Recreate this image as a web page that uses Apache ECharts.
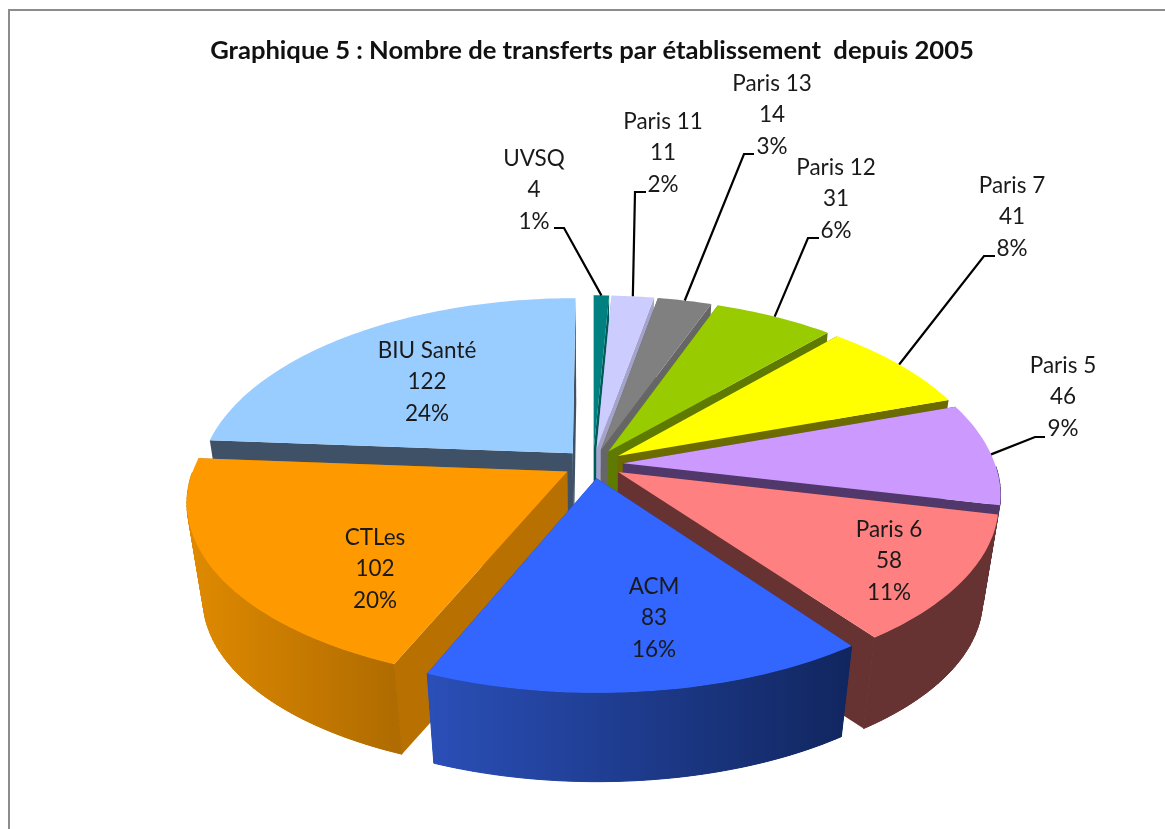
<!DOCTYPE html>
<html><head><meta charset="utf-8">
<style>html,body{margin:0;padding:0;background:#fff}#c{width:1165px;height:829px}</style>
<script src="https://cdn.jsdelivr.net/npm/echarts@6/dist/echarts.min.js"></script>
</head><body><div id="c"></div>
<script>
// Data
var categories = ['UVSQ','Paris 11','Paris 13','Paris 12','Paris 7','Paris 5','Paris 6','ACM','CTLes','BIU Santé'];
var values = [4,11,14,31,41,46,58,83,102,122];
var titleText = 'Graphique 5 : Nombre de transferts par établissement  depuis 2005';

// Styles
var topColors  = ['#008080','#CCCCFF','#808080','#99CC00','#FFFF00','#CC99FF','#FF8080','#3366FF','#FF9900','#99CCFF'];
var cutColors  = ['#005a5a','#a3a3cc','#666666','#5f7a00','#6b6b00','#50386a','#673232','#1c3a96','#b87000','#3f5166'];
var wallLeft   = ['#005a5a','#a3a3cc','#666666','#5f7a00','#6b6b00','#50386a','#673232','#2a4fb8','#e08a00','#3f5166'];
var wallRight  = ['#005a5a','#a3a3cc','#666666','#5f7a00','#6b6b00','#50386a','#673232','#11265f','#b06c00','#3f5166'];
var paintRank  = [0,1,2,3,4,5,7,9,8,6];
// Label layout: centre in page pixels, elbow of leader
var labelPos   = [[534,190],[663,153],[772,115],[836,199],[1012,217],[1063,397],[889,561],[654,618],[375,569],[427,382]];
var leaderPts  = [[[554,228],[564,228]],[[646,192],[635,192]],[[754,154],[744,154]],[[819,238],[808,238]],[[995,256],[984,256]],[[1045,437],[1035,437]],null,null,null,null];

// 3D geometry
var CX=593, CY=464, R=372, AFRONT=0.47, ABACK=0.493, D=2300, EXPL=30, BOT=0.96, DZ=98;
function topPt(X,Y){var f=1/(1-Y/D);return [CX+X*f,CY+Y*(Y<0?ABACK:AFRONT)*f];}
function botPt(X,Y){var p=topPt(X,Y);return [CX+(p[0]-CX)*BOT,CY+(p[1]-CY)*BOT+DZ];}

var total=values.reduce(function(a,b){return a+b;},0);
var starts=[],acc=0;
values.forEach(function(v){starts.push(acc/total*2*Math.PI);acc+=v;});

function renderSlice(params,api){
  var i=params.dataIndex, v=api.value(0);
  var a0=starts[i], a1=a0+v/total*2*Math.PI, mid=(a0+a1)/2;
  var ex=EXPL*Math.sin(mid), ey=-EXPL*Math.cos(mid);
  var steps=Math.max(4,Math.ceil((a1-a0)/0.02));
  var arc=[],angles=[];
  for(var k=0;k<=steps;k++){var t=a0+(a1-a0)*k/steps;angles.push(t);arc.push([ex+R*Math.sin(t),ey-R*Math.cos(t)]);}
  var rank=paintRank[i]*10, kids=[];
  var topArc=arc.map(function(p){return topPt(p[0],p[1]);});
  var botArc=arc.map(function(p){return botPt(p[0],p[1]);});
  var apexT=topPt(ex,ey), apexB=botPt(ex,ey);
  var xs=topArc.map(function(p){return p[0];});
  var minX=Math.min.apply(null,xs), maxX=Math.max.apply(null,xs);
  var wallFill=new echarts.graphic.LinearGradient(minX,0,maxX,0,[{offset:0,color:wallLeft[i]},{offset:1,color:wallRight[i]}],true);
  // cut faces
  kids.push({type:'polygon',z2:rank+1,shape:{points:[apexT,topArc[0],botArc[0],apexB]},style:{fill:cutColors[i]}});
  kids.push({type:'polygon',z2:rank+1,shape:{points:[apexT,topArc[steps],botArc[steps],apexB]},style:{fill:cutColors[i]}});
  // rim wall: the near side only, backed by one polygon so the quads show no seams
  var vis=[];
  for(var n=0;n<=steps;n++){ if(Math.cos(angles[n])<=0) vis.push(n); }
  if(vis.length>1){
    var upper=vis.map(function(n){return topArc[n];}), lower=vis.map(function(n){return botArc[n];}).reverse();
    kids.push({type:'polygon',z2:rank+2,shape:{points:upper.concat(lower)},style:{fill:wallFill}});
    for(var q=0;q<vis.length-1;q++){
      var a=vis[q], b=vis[q+1];
      kids.push({type:'polygon',z2:rank+2,shape:{points:[topArc[a],topArc[b],botArc[b],botArc[a]]},style:{fill:wallFill,stroke:wallFill,lineWidth:1}});
    }
  }
  // top face
  kids.push({type:'polygon',z2:rank+3,shape:{points:[apexT].concat(topArc)},style:{fill:topColors[i]}});
  // label
  var pct=Math.round(v/total*100)+'%';
  kids.push({type:'text',z2:1000,style:{x:labelPos[i][0],y:labelPos[i][1],text:categories[i]+'\n'+v+'\n'+pct,
    fill:'#1a1a1a',font:'22.5px Lato, Carlito, sans-serif',lineHeight:31.5,align:'center',verticalAlign:'middle'}});
  if(leaderPts[i]){
    var rim=topPt(ex+R*Math.sin(mid),ey-R*Math.cos(mid));
    kids.push({type:'polyline',z2:999,shape:{points:leaderPts[i].concat([rim])},style:{stroke:'#000',lineWidth:2.2,fill:null}});
  }
  return {type:'group',children:kids};
}

var chart=echarts.init(document.getElementById('c'),null,{renderer:'canvas'});
chart.setOption({
  animation:false,
  backgroundColor:'#fff',
  title:{text:titleText,left:587,top:33,textAlign:'center',textStyle:{fontFamily:'Lato, Carlito, sans-serif',fontWeight:'bold',fontSize:25.6,color:'#111'}},
  graphic:[{type:'rect',shape:{x:9,y:10,width:1200,height:900},style:{fill:null,stroke:'#8c8c8c',lineWidth:2},silent:true}],
  series:[{type:'custom',coordinateSystem:'none',renderItem:renderSlice,silent:true,
    data:values.map(function(v,i){return {name:categories[i],value:[v]};})}]
});
</script></body></html>
